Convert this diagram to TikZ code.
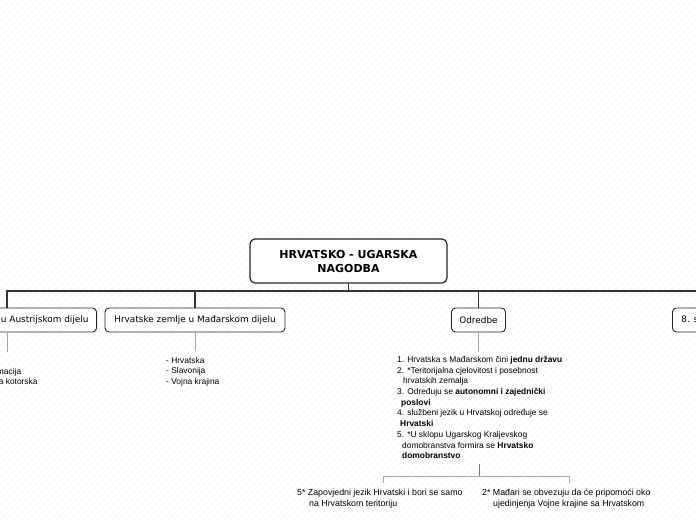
\documentclass[tikz,border=0pt]{standalone}
\usepackage{fontspec}
\setmainfont{DejaVu Sans}
\newfontfamily\listfont{Liberation Sans}
\usetikzlibrary{positioning}

\begin{document}
\begin{tikzpicture}[x=1pt, y=-1pt,
  topic/.style={draw=black!85, line width=0.9pt, rounded corners=4pt, fill=white,
    inner sep=0pt, minimum height=24pt, font=\fontsize{8.9}{10}\selectfont},
  central/.style={draw=black!85, line width=1.2pt, rounded corners=5pt, fill=white,
    inner sep=0pt, minimum width=197pt, minimum height=44pt, align=center,
    font=\fontsize{11}{14}\selectfont\bfseries},
  notes/.style={inner sep=0pt, align=left, font=\listfont\fontsize{8.4}{10.7}\selectfont},
  link/.style={draw=black!80, line width=1.1pt},
  sublink/.style={draw=black!35, line width=1pt},
  hatch/.style={draw=black!5, line width=0.6pt}]

\useasboundingbox (0,0) rectangle (696,520);

% --- background ---
\fill[white] (0,0) rectangle (696,520);
\begin{scope}
\clip (0,0) rectangle (696,520);
\foreach \i in {-525,-518,...,700}
  \draw[hatch] (\i,520) -- ++(525,-525);
\end{scope}

% --- central topic ---
\node[central] (root) at (348.5,261) {HRVATSKO - UGARSKA\\NAGODBA};
\coordinate (busL) at (7,291);
\coordinate (busR) at (720,291);

% --- main topics ---
\node[topic, minimum width=178pt, anchor=east] (aus) at (97,320) {Hrvatske zemlje u Austrijskom dijelu};
\node[topic, minimum width=180pt] (mad) at (195,320) {Hrvatske zemlje u Mađarskom dijelu};
\node[topic, minimum width=54pt] (odr) at (478.5,320) {Odredbe};
\node[topic, inner xsep=9pt, anchor=west] (dat) at (672,320) {8. studenoga 1868.};

\draw[link] (root.south) -- (root.south |- busL);
\draw[link] (aus.north -| busL) -- (busL) -- (busR);
\draw[link] (mad.north) -- (mad.north |- busL);
\draw[link] (odr.north) -- (odr.north |- busL);
\draw[link] (dat.north) -- (dat.north |- busL);

% --- notes under the topics ---
\node[notes, anchor=north west] (auslist) at (-21,368) {- Dalmacija\\- Boka kotorska};
\node[notes, anchor=north west] (madlist) at (166,357) {- Hrvatska\\- Slavonija\\- Vojna krajina};
\draw[sublink] (aus.south -| busL) -- ++(0,20);
\draw[sublink] (mad.south) -- ++(0,19);
\draw[sublink] (odr.south) -- ++(0,20);

\node[notes, anchor=north west] (odrlist) at (397,356) {%
1. Hrvatska s Mađarskom čini \textbf{jednu državu}\\
2. *Teritorijalna cjelovitost i posebnost\\
\hspace*{6pt}hrvatskih zemalja\\
3. Određuju se \textbf{autonomni i zajednički}\\
\hspace*{4pt}\textbf{poslovi}\\
4. službeni jezik u Hrvatskoj određuje se\\
\hspace*{3pt}\textbf{Hrvatski}\\
5. *U sklopu Ugarskog Kraljevskog\\
\hspace*{5pt}domobranstva formira se \textbf{Hrvatsko}\\
\hspace*{5pt}\textbf{domobranstvo}};

% --- sub notes ---
\coordinate (fork) at (479,476);
\coordinate (forkL) at (383,476);
\coordinate (forkR) at (569,476);
\draw[sublink, draw=black!55] (fork |- odrlist.south) ++(0,5) -- (fork);
\draw[sublink] (forkL) ++(0,7) -- (forkL) -- (forkR) -- ++(0,7);

\node[notes, anchor=north west, font=\listfont\fontsize{8.8}{10.7}\selectfont] (jezik) at (297,489) {%
5* Zapovjedni jezik Hrvatski i bori se samo\\
\hspace*{12pt}na Hrvatskom teritoriju};
\node[notes, anchor=north west, font=\listfont\fontsize{8.8}{10.7}\selectfont] (krajina) at (482,489) {%
2* Mađari se obvezuju da će pripomoći oko\\
\hspace*{11pt}ujedinjenja Vojne krajine sa Hrvatskom};

\end{tikzpicture}
\end{document}
